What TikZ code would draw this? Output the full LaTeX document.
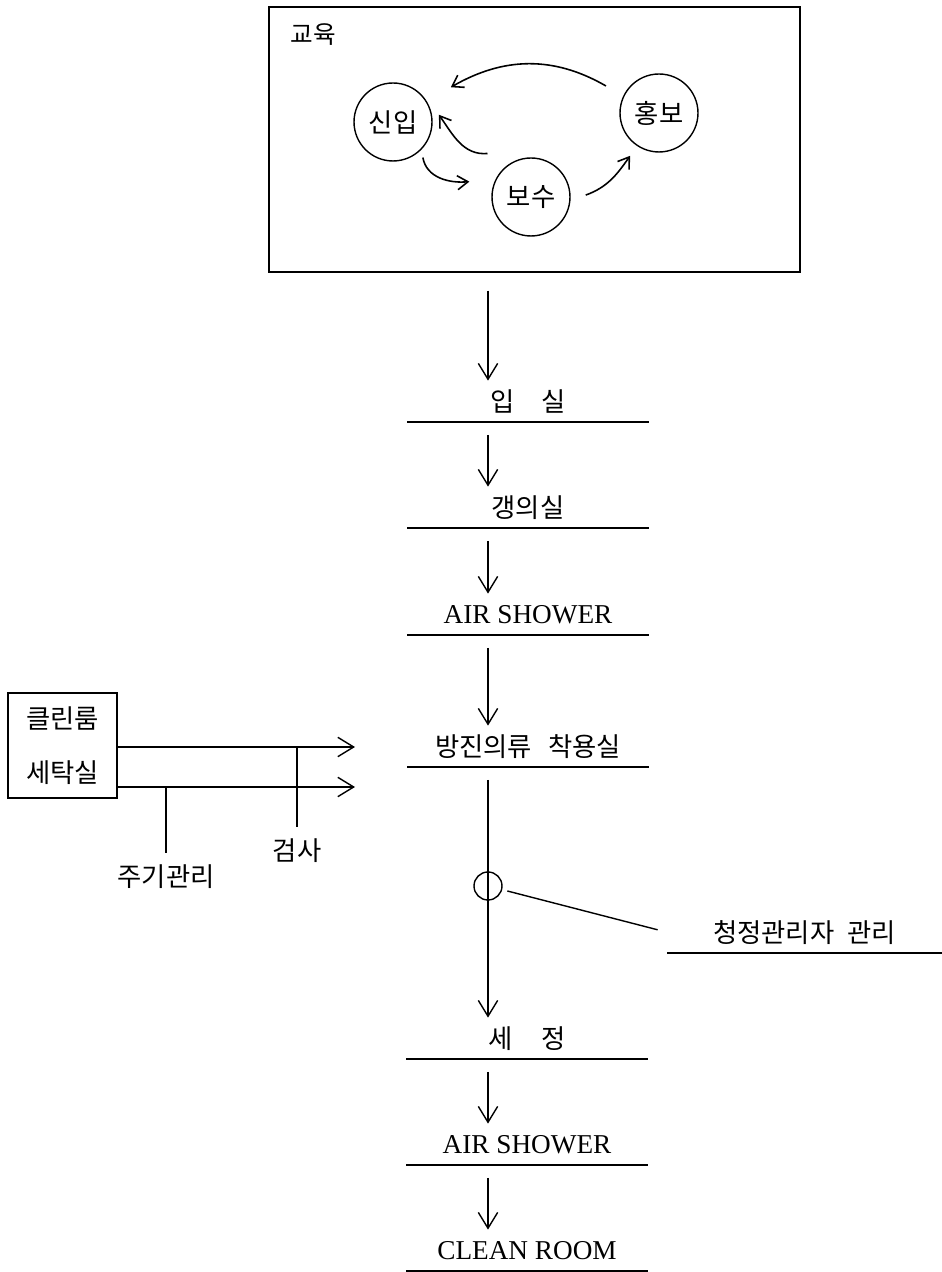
\documentclass[tikz,border=0pt]{standalone}
\usepackage{fontspec}
\setmainfont{Liberation Serif}
\newfontfamily\kr{Noto Sans CJK KR}
\usetikzlibrary{arrows.meta,calc}

\tikzset{
  stagebox/.style={minimum width=4.8cm, minimum height=0.8cm, inner sep=0pt, anchor=south},
  flowarrow/.style={-{Straight Barb[length=9pt,width=11pt]}},
  cyclearrow/.style={-{Straight Barb[length=6pt,width=8pt]}, line width=0.9pt},
  roundbox/.style={circle, draw, minimum size=1.56cm, inner sep=0pt},
  latin/.style={font=\rmfamily\fontsize{15.5}{18}\selectfont},
  ticklabel/.style={anchor=north, inner sep=6pt}
}

\begin{document}
\begin{tikzpicture}[x=0.02cm, y=0.02cm, line width=0.8pt,
  every node/.style={font=\kr\fontsize{15}{18}\selectfont}]
    \useasboundingbox (0,0) rectangle (941,1272);

    % Education box with its three circles
    \node[draw, minimum width=10.62cm, minimum height=5.3cm, inner sep=0pt] (edu) at (534.5,1132.5) {};
    \node[font=\kr\fontsize{14}{16}\selectfont] (edulabel) at (313,1237) {교육};
    \node[roundbox] (sinip) at (393,1150) {신입};
    \node[roundbox] (bosu) at (531,1075) {보수};
    \node[roundbox] (hongbo) at (659,1159) {홍보};

    % Arrows between the circles
    \draw[cyclearrow] ($(hongbo)!1.5!(hongbo.153)$) to[out=150,in=30] ($(sinip)!1.7!(sinip.31)$);
    \draw[cyclearrow] ($(bosu)!1.55!(bosu.135)$) to[out=185,in=-55] ($(sinip)!1.17!(sinip.9)$);
    \draw[cyclearrow] ($(sinip)!1.17!(sinip.-50)$) to[out=-80,in=185] ($(bosu)!1.6!(bosu.166)$);
    \draw[cyclearrow] ($(bosu)!1.38!(bosu.2)$) to[out=20,in=235] ($(hongbo)!1.3!(hongbo.-124)$);

    % Main flow of stages
    \coordinate (ax) at (488,0);
    \node[stagebox] (entry) at (528,850) {입\hspace{1em}실};
    \node[stagebox] (gown) at (528,744) {갱의실};
    \node[stagebox, latin] (shower1) at (528,637) {AIR SHOWER};
    \node[stagebox] (dustroom) at (528,505) {방진의류\hspace{0.6em}착용실};
    \node[stagebox] (wash) at (527,213) {세\hspace{1.1em}정};
    \node[stagebox, latin] (shower2) at (527,107) {AIR SHOWER};
    \node[stagebox, latin] (cleanroom) at (527,1) {CLEAN ROOM};

    \draw[flowarrow, shorten <=0.36cm] (edu.south -| ax) -- (entry.north -| ax);
    \foreach \a/\b in {entry/gown, gown/shower1, shower1/dustroom, dustroom/wash, wash/shower2, shower2/cleanroom}
        \draw[flowarrow, shorten <=0.26cm] (\a.south -| ax) -- (\b.north -| ax);

    % Checkpoint on the way to washing
    \node[circle, draw, minimum size=0.56cm, inner sep=0pt] (probe) at (ax |- 0,386) {};
    \node[stagebox, minimum width=5.46cm] (mgr) at (804.5,319) {청정관리자\hspace{0.5em}관리};
    \draw[shorten <=3pt, shorten >=0.2cm] (probe) -- (mgr.west);

    % Underlines
    \foreach \s in {entry,gown,shower1,dustroom,wash,shower2,cleanroom,mgr}
        \draw (\s.south west) -- (\s.south east);

    % Laundry room feeding the gowning room
    \node[draw, minimum width=2.18cm, minimum height=2.1cm, align=center, inner sep=0pt] (laundry) at (62.5,526.5) {클린룸\\[0.45cm]세탁실};
    \coordinate (tin1) at (355,525);
    \coordinate (tin2) at (355,485);
    \draw[flowarrow] (laundry.east |- tin1) -- (tin1);
    \draw[flowarrow] (laundry.east |- tin2) -- (tin2);
    \node[ticklabel] (insp) at (297,445) {검사};
    \node[ticklabel] (cycle) at (166,419) {주기관리};
    \draw (insp.north) -- (insp.north |- tin1);
    \draw (cycle.north) -- (cycle.north |- tin2);

\end{tikzpicture}
\end{document}
